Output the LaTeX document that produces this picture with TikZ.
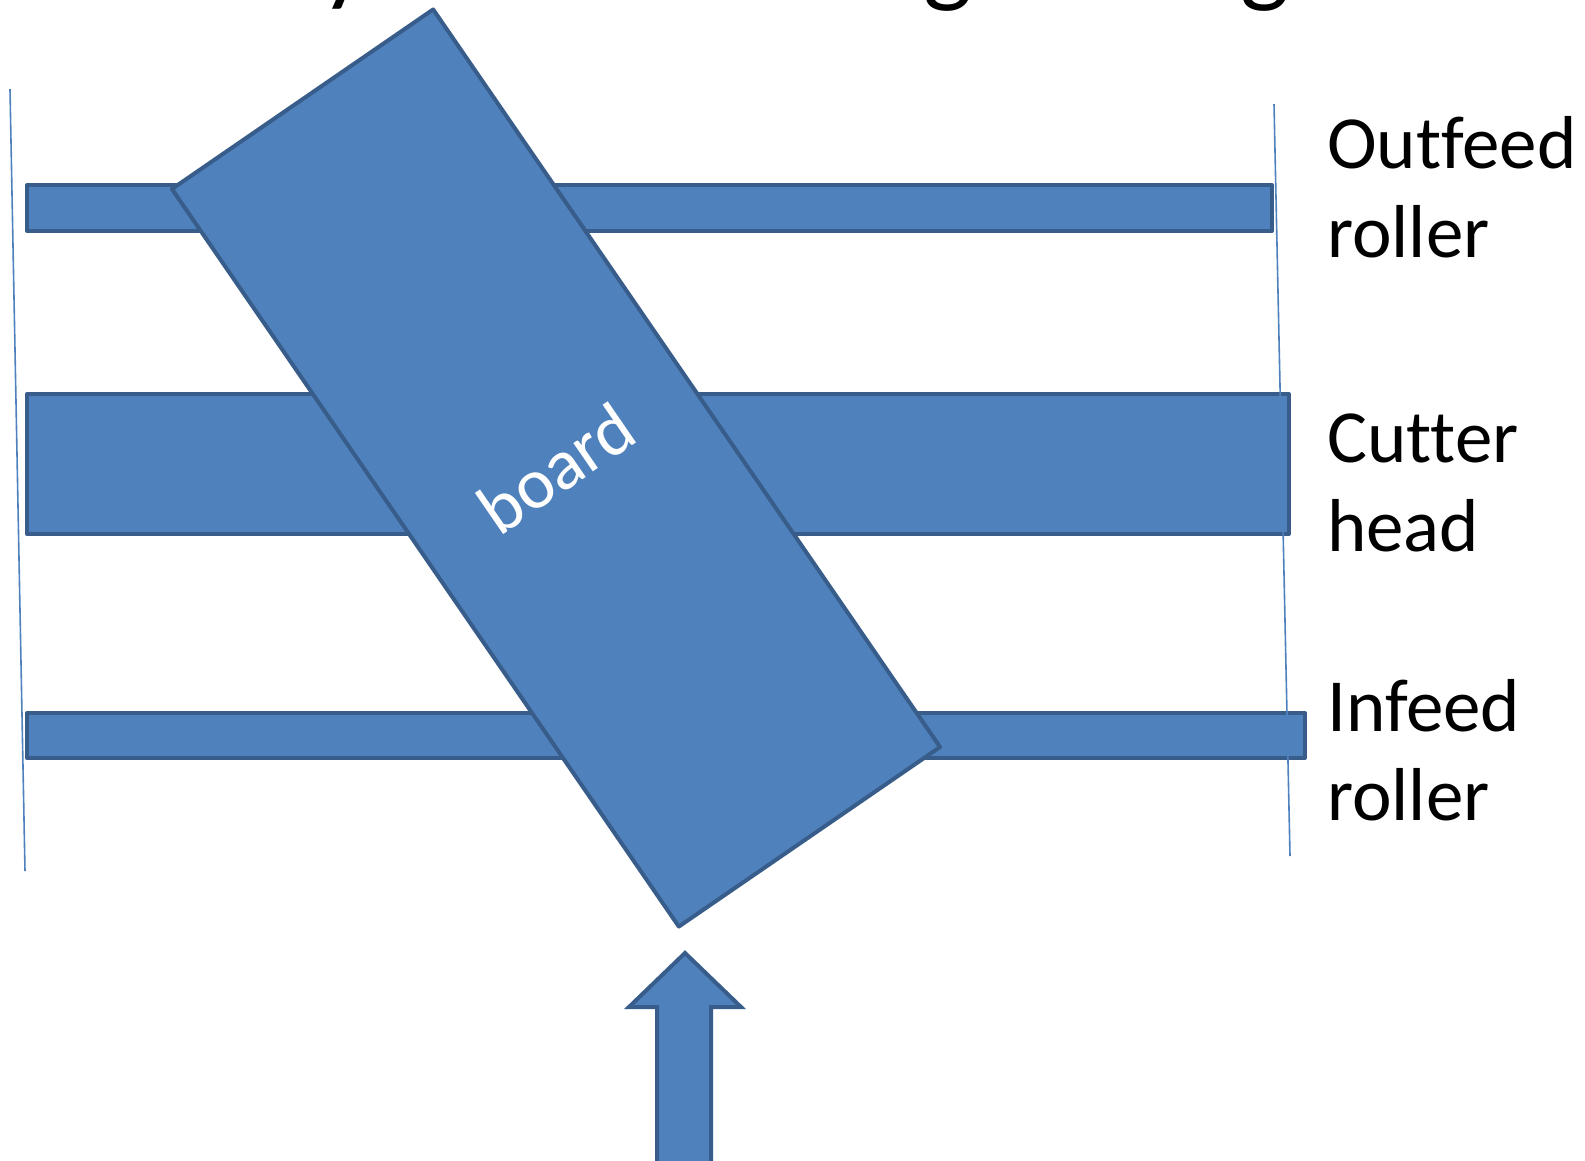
\documentclass[tikz,border=0pt]{standalone}
\usepackage{fontspec}
\setmainfont{Carlito}[Ligatures=NoCommon]
\begin{document}
\begin{tikzpicture}[x=1pt,y=-1pt,
  part/.style={draw=partedge,fill=partfill,line width=4pt,line join=round},
  guide/.style={draw=partfill,line width=1.6pt},
  label/.style={anchor=base west,align=left,inner sep=0pt,font=\fontsize{75}{89}\selectfont},
  titleglyph/.style={anchor=base west,inner sep=0pt,font=\fontsize{104}{124}\selectfont}]
\definecolor{partfill}{HTML}{4F81BD}
\definecolor{partedge}{HTML}{385D8A}
\useasboundingbox (0,0) rectangle (1585,1160);
\begin{scope}
\clip (0,0) rectangle (1585,1160);

% heading, only its descenders fall inside the page
\node[titleglyph] (ty)  at (321,-8) {y};
\node[titleglyph] (tg1) at (923,-7) {g};
\node[titleglyph] (tg2) at (1240,-7) {g};

% rollers and cutter head
\path[part] (27,185) rectangle (1272,231) coordinate (outfeedse);
\path[part] (27,394) rectangle (1289,534) coordinate (cutterse);
\path[part] (27,713) rectangle (1305,758) coordinate (infeedse);

% machine side guides
\coordinate (gl1) at (10,89);
\coordinate (gl2) at (25,871);
\coordinate (gr1) at (1274,104);
\coordinate (gr2) at (1290,856);
\draw[guide] (gl1) -- (gl2);
\draw[guide] (gr1) -- (gr2);

% board entering at an angle
\node[part,rotate=34.5,minimum width=317pt,minimum height=895pt,inner sep=0pt,
      text=white,font=\fontsize{72}{86}\selectfont] (board) at (556,468) {board};

% feed direction
\path[part,line join=miter] (657,1180) -- (657,1007) -- (629,1007) -- (685,953)
  -- (741,1007) -- (711,1007) -- (711,1180) -- cycle;
\end{scope}

% labels (anchored at the baseline of their second line)
\node[label] (outfeed) at (1327,257) {Outfeed\\roller};
\node[label] (cutter)  at (1327,551) {Cutter\\head};
\node[label] (infeed)  at (1327,820) {Infeed\\roller};
\end{tikzpicture}
\end{document}
